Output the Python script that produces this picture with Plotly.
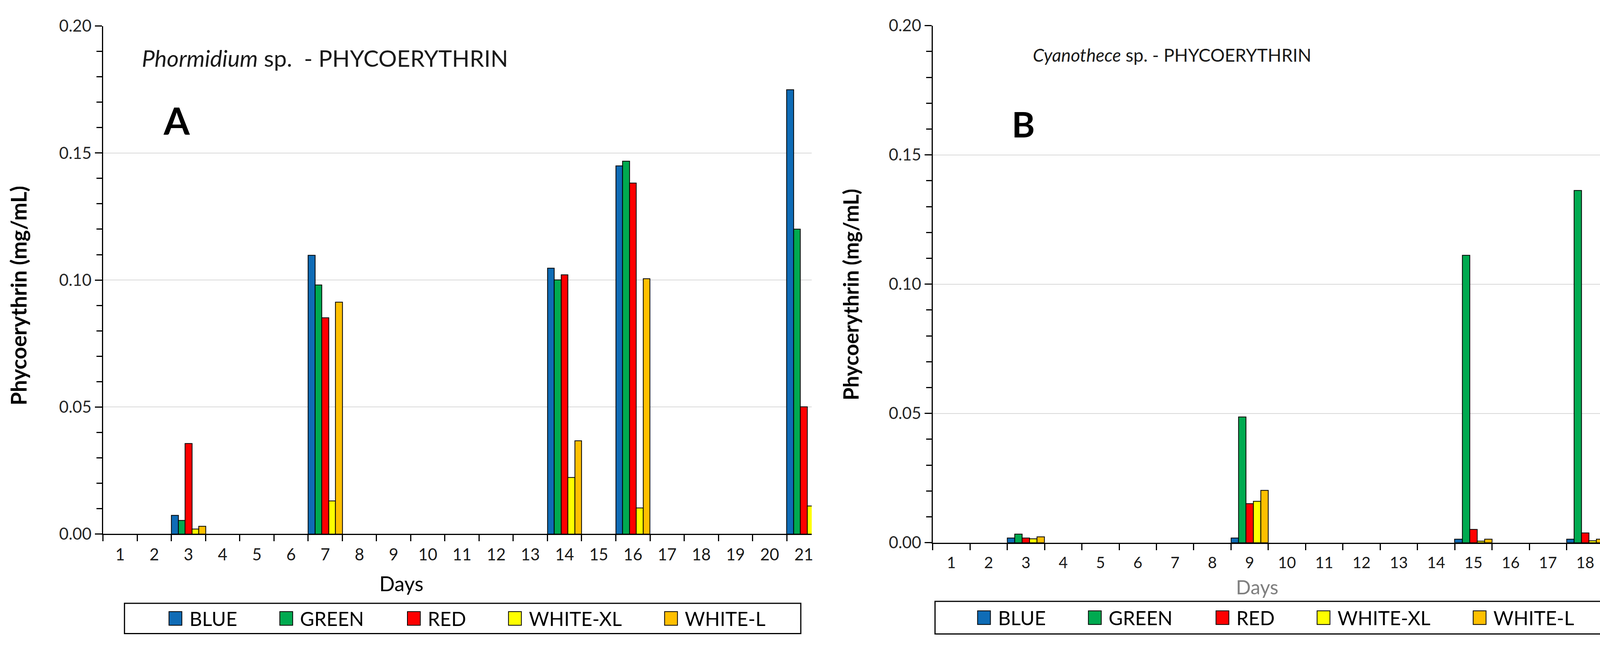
import plotly.graph_objects as go

# ---------------- data ----------------
days_A = [str(d) for d in range(1, 22)]
days_B = [str(d) for d in range(1, 19)]

series = ["BLUE", "GREEN", "RED", "WHITE-XL", "WHITE-L"]
colors = ["#0F6CB6", "#00AA50", "#FF0000", "#FFFF00", "#FFC000"]

# Phormidium sp. (panel A) - values at days 3, 7, 14, 16, 21 (others: no bar)
blue_A = {3: 0.0073, 7: 0.1097, 14: 0.1047, 16: 0.1450, 21: 0.1750}
green_A = {3: 0.0053, 7: 0.0981, 14: 0.1000, 16: 0.1468, 21: 0.1200}
red_A = {3: 0.0356, 7: 0.0851, 14: 0.1021, 16: 0.1382, 21: 0.0500}
whitexl_A = {3: 0.0019, 7: 0.0130, 14: 0.0222, 16: 0.0103, 21: 0.0110}
whitel_A = {3: 0.0030, 7: 0.0913, 14: 0.0367, 16: 0.1005}

# Cyanothece sp. (panel B) - values at days 3, 9, 15, 18
blue_B = {3: 0.0018, 9: 0.0018, 15: 0.0013, 18: 0.0013}
green_B = {3: 0.0033, 9: 0.0486, 15: 0.1111, 18: 0.1362}
red_B = {3: 0.0018, 9: 0.0151, 15: 0.0051, 18: 0.0037}
whitexl_B = {3: 0.0015, 9: 0.0160, 15: 0.0006, 18: 0.0008}
whitel_B = {3: 0.0023, 9: 0.0203, 15: 0.0013, 18: 0.0013}

data_A = [blue_A, green_A, red_A, whitexl_A, whitel_A]
data_B = [blue_B, green_B, red_B, whitexl_B, whitel_B]

y_ticks = [0.0, 0.05, 0.10, 0.15, 0.20]
y_ticklabels = ["0.00", "0.05", "0.10", "0.15", "0.20"]

# ---------------- layout constants (pixels) ----------------
W, H = 4131, 1662
FONT = "Lato"


def px(x):
    return x / W


def py(y):
    return 1 - y / H


fig = go.Figure()

for name, col, dA in zip(series, colors, data_A):
    fig.add_trace(go.Bar(
        x=days_A, y=[dA.get(int(d)) for d in days_A], name=name,
        marker=dict(color=col, line=dict(color="#000000", width=2)),
        xaxis="x", yaxis="y", showlegend=False, offsetgroup=name + "A"))
for name, col, dB in zip(series, colors, data_B):
    fig.add_trace(go.Bar(
        x=days_B, y=[dB.get(int(d)) for d in days_B], name=name,
        marker=dict(color=col, line=dict(color="#000000", width=2)),
        xaxis="x2", yaxis="y2", showlegend=False, offsetgroup=name + "B"))

xcommon = dict(type="category", tickson="boundaries", ticks="outside", ticklen=16,
               tickwidth=3, tickcolor="#000000", showline=True, linecolor="#000000",
               linewidth=3, showgrid=False, zeroline=False,
               ticklabelstandoff=14)
ycommon = dict(range=[0, 0.2], tickvals=y_ticks, ticktext=y_ticklabels,
               ticks="outside", ticklen=18, tickwidth=3, tickcolor="#000000",
               showline=True, linecolor="#000000", linewidth=3,
               showgrid=True, gridcolor="#D9D9D9", gridwidth=2, zeroline=False,
               tickfont=dict(family=FONT, size=42, color="#262626"),
               minor=dict(dtick=0.01, ticks="outside", ticklen=14, tickwidth=3,
                          tickcolor="#000000", showgrid=False))

fig.update_layout(
    width=W, height=H, margin=dict(l=0, r=0, t=0, b=0),
    paper_bgcolor="white", plot_bgcolor="white",
    barmode="group", bargap=0, bargroupgap=0,
    xaxis=dict(domain=[px(264), px(2080)], range=[-0.5, 20.23], anchor="y",
               tickfont=dict(family=FONT, size=42, color="#1a1a1a"), **xcommon),
    yaxis=dict(domain=[py(1383), py(42)], anchor="x", **ycommon),
    xaxis2=dict(domain=[px(2390), px(4110)], range=[-0.5, 17.5], anchor="y2",
                tickfont=dict(family=FONT, size=40, color="#1a1a1a"), **xcommon),
    yaxis2=dict(domain=[py(1406), py(41)], anchor="x2", **ycommon),
)

ann = []


def add_text(text, x, y, size, color="#000000", xanchor="center", angle=0):
    ann.append(dict(text=text, x=px(x), y=py(y), xref="paper", yref="paper",
                    xanchor=xanchor, yanchor="middle", showarrow=False, textangle=angle,
                    font=dict(family=FONT, size=size, color=color)))


# panel titles
add_text("<i>Phormidium</i> sp.  - PHYCOERYTHRIN", 361, 126, 59, "#1a1a1a", "left")
add_text("<i>Cyanothece</i> sp. - PHYCOERYTHRIN", 2645, 118, 46, "#1a1a1a", "left")
add_text("<b>A</b>", 453, 290, 96)
add_text("<b>B</b>", 2622, 300, 90)
# axis titles
add_text("<b>Phycoerythrin (mg/mL)</b>", 47, 754, 55, angle=-90)
add_text("<b>Phycoerythrin (mg/mL)</b>", 2180, 751, 53, angle=-90)
add_text("Days", 1028, 1514, 52)
add_text("Days", 3222, 1523, 50, "#7F7F7F")

shapes = []
# hand-drawn legends (Excel-style boxes)
legend_boxes = [(319, 2052, 1566, 1646, 433), (2396, 4115, 1561, 1647, 2505)]
legend_offsets = [0, 284, 611, 870, 1270]
for (x0, x1, y0, y1, sw0) in legend_boxes:
    shapes.append(dict(type="rect", xref="paper", yref="paper",
                       x0=px(x0), x1=px(x1), y0=py(y1), y1=py(y0),
                       line=dict(color="#000000", width=3), fillcolor="rgba(0,0,0,0)"))
    yc = (y0 + y1) / 2
    for name, col, off in zip(series, colors, legend_offsets):
        sx = sw0 + off
        shapes.append(dict(type="rect", xref="paper", yref="paper",
                           x0=px(sx), x1=px(sx + 33), y0=py(yc + 18), y1=py(yc - 18),
                           line=dict(color="#000000", width=2), fillcolor=col))
        add_text(name, sx + 50, yc, 50, xanchor="left")

fig.update_layout(annotations=ann, shapes=shapes)

fig.write_html("out.html",
               config={"displayModeBar": False},
               post_script="document.body.style.margin='0';"
                           "document.body.style.overflow='hidden';")
